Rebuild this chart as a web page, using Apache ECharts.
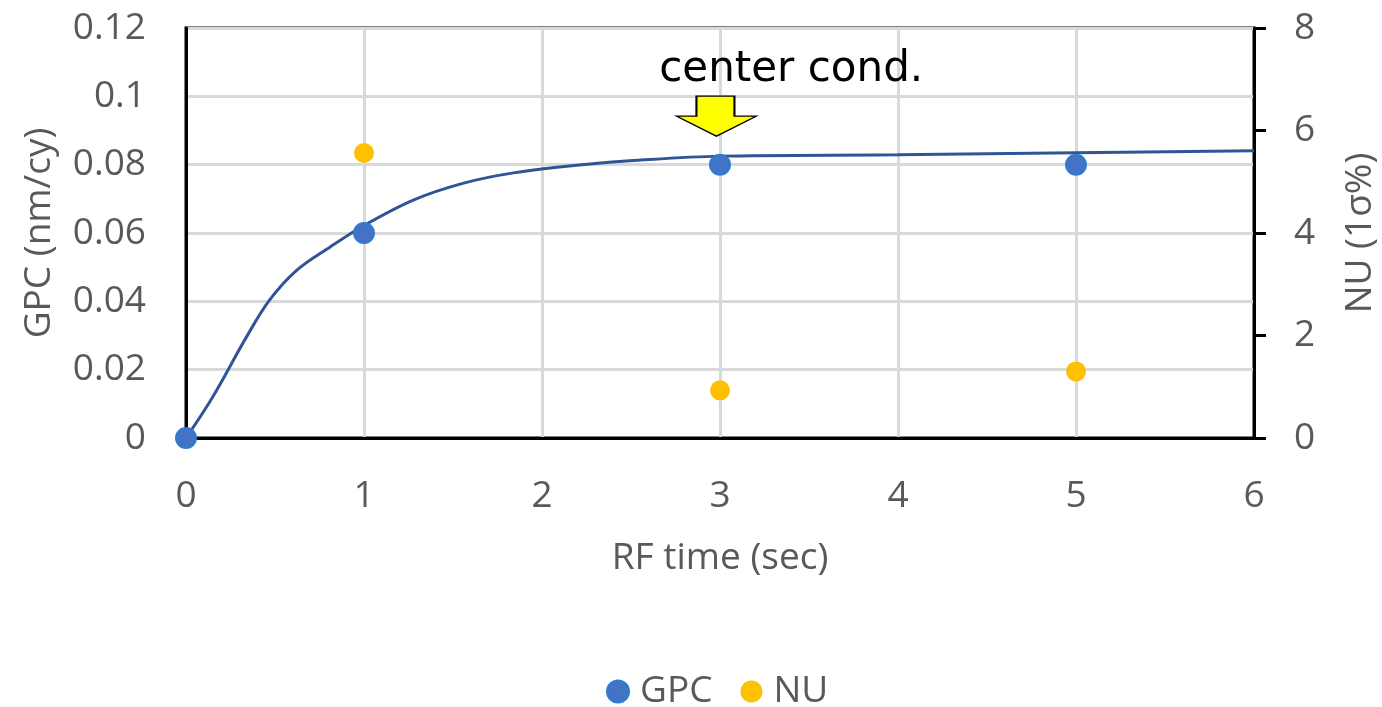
<!DOCTYPE html>
<html>
<head>
<meta charset="utf-8">
<script src="https://cdn.jsdelivr.net/npm/echarts@6/dist/echarts.min.js"></script>
<style>
  html, body { margin: 0; padding: 0; background: #fff; }
  #chart { width: 1382px; height: 707px; }
</style>
</head>
<body>
<div id="chart"></div>
<script>
// measured points
const gpcPoints = [[0, 0], [1, 0.06], [3, 0.08], [5, 0.08]];
const nuPoints = [[1, 5.56], [3, 0.93], [5, 1.3]];
// fitted curve
const fitCurve = [
  [0, 0], [0.15, 0.012], [0.34, 0.0296], [0.47, 0.0404], [0.62, 0.049],
  [0.81, 0.0559], [1.0, 0.0622], [1.28, 0.0697], [1.56, 0.0746],
  [1.84, 0.0776], [2.21, 0.0799], [2.6, 0.0815], [3, 0.0825],
  [4, 0.0829], [5, 0.0835], [6, 0.0841]
];
const arrowAt = [2.98, 0.0942];
const noteAt = [3.4, 0.1077];

const labelFont = '"Open Sans", sans-serif';
const grey = '#595959';
const fs = 37;

const chart = echarts.init(document.getElementById('chart'));
chart.setOption({
  animation: false,
  grid: {
    left: 186, right: 128, top: 28, bottom: 269,
    outerBoundsMode: 'none',
    show: true, borderColor: '#000', borderWidth: 3, backgroundColor: 'transparent'
  },
  legend: {
    top: 668,
    left: 601,
    data: ['GPC', 'NU'],
    itemGap: 28,
    itemWidth: 22,
    itemHeight: 22,
    textStyle: { color: grey, fontSize: fs, fontFamily: labelFont, padding: [0, 0, 0, 6] }
  },
  xAxis: {
    type: 'value',
    min: 0, max: 6, interval: 1,
    name: 'RF time (sec)',
    nameLocation: 'middle',
    nameGap: 102,
    nameTextStyle: { color: grey, fontSize: fs, fontFamily: labelFont },
    axisLine: { show: true, lineStyle: { color: '#000', width: 3 } },
    axisTick: { show: false },
    axisLabel: { color: grey, fontSize: fs, fontFamily: labelFont, margin: 40 },
    splitLine: { show: true, lineStyle: { color: '#D9D9D9', width: 3 } }
  },
  yAxis: [
    {
      type: 'value',
      min: 0, max: 0.12, interval: 0.02,
      name: 'GPC (nm/cy)',
      nameLocation: 'middle',
      nameGap: 128,
      nameTextStyle: { color: grey, fontSize: fs, fontFamily: labelFont },
      axisLine: { show: true, lineStyle: { color: '#000', width: 3 } },
      axisTick: { show: false },
      axisLabel: { color: grey, fontSize: fs, fontFamily: labelFont, margin: 40 },
      splitLine: { show: true, lineStyle: { color: '#D9D9D9', width: 3 } }
    },
    {
      type: 'value',
      position: 'right',
      min: 0, max: 8, interval: 2,
      name: 'NU (1σ%)',
      nameLocation: 'middle',
      nameGap: 88,
      nameRotate: 90,
      nameTextStyle: { color: grey, fontSize: fs, fontFamily: labelFont },
      axisLine: { show: true, lineStyle: { color: '#000', width: 3 } },
      axisTick: { show: true, length: 12, lineStyle: { color: '#000', width: 3 } },
      axisLabel: { color: grey, fontSize: fs, fontFamily: labelFont, margin: 40 },
      splitLine: { show: false }
    }
  ],
  series: [
    {
      name: 'fit',
      type: 'line',
      data: fitCurve,
      smooth: 0.35,
      showSymbol: false,
      lineStyle: { color: '#2F5597', width: 3 },
      z: 2
    },
    {
      name: 'GPC',
      type: 'scatter',
      data: gpcPoints,
      symbolSize: 20,
      itemStyle: { color: '#4472C4', borderColor: '#2E7BD0', borderWidth: 2, opacity: 1 },
      z: 3,
      markPoint: {
        silent: true,
        data: [
          {
            coord: arrowAt,
            symbol: 'path://M20,0 L58,0 L58,20 L80,20 L40,40 L0,20 L20,20 Z',
            symbolSize: [80, 40],
            itemStyle: { color: '#FFFF00', borderColor: '#000', borderWidth: 1.5 },
            label: { show: false }
          },
          {
            coord: noteAt,
            symbol: 'circle',
            symbolSize: 1,
            itemStyle: { color: 'transparent' },
            label: {
              show: true,
              position: 'inside',
              formatter: 'center cond.',
              color: '#000',
              fontSize: 42,
              fontFamily: '"DejaVu Sans", sans-serif'
            }
          }
        ]
      }
    },
    {
      name: 'NU',
      type: 'scatter',
      yAxisIndex: 1,
      data: nuPoints,
      symbolSize: 20,
      itemStyle: { color: '#FFC000', opacity: 1 },
      z: 3
    }
  ]
});
</script>
</body>
</html>
